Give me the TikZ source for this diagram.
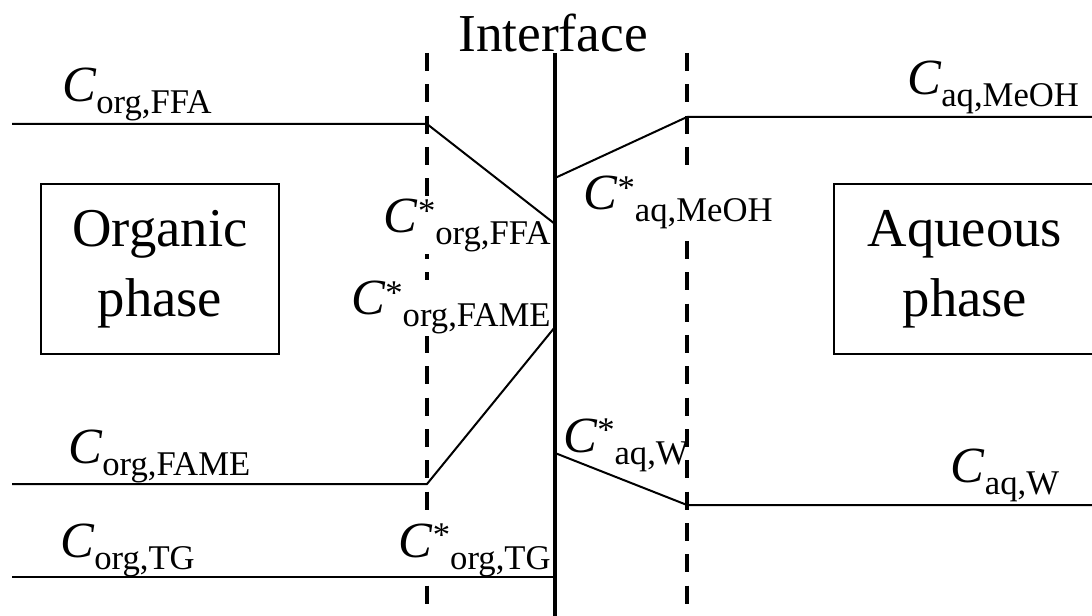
\documentclass[tikz,border=0pt]{standalone}
\usepackage{fontspec}
\setmainfont{Liberation Serif}
\usetikzlibrary{positioning}
\newcommand{\cbulk}[1]{{\fontsize{38}{38}\selectfont\textit{C}}\raisebox{-9pt}{\fontsize{26}{26}\selectfont #1}}
\newcommand{\cintf}[1]{{\fontsize{38}{38}\selectfont\textit{C}}\raisebox{8pt}{\fontsize{26}{26}\selectfont *}\raisebox{-9pt}{\fontsize{26}{26}\selectfont #1}}

\begin{document}
\begin{tikzpicture}[x=0.75pt, y=-0.75pt,
      every node/.style={inner sep=0pt, outer sep=0pt},
      film/.style={line width=3pt, dash pattern=on 13.5pt off 10pt},
      wall/.style={line width=3.2pt},
      prof/.style={line width=1.5pt},
      phasebox/.style={draw, line width=1.3pt, align=center,
                       font=\fontsize{41}{52.5}\selectfont},
      lw/.style={anchor=base west}, le/.style={anchor=base east},
      mask/.style={fill=white, inner sep=1pt}]
    \useasboundingbox (0,0) rectangle (1092,616);
    % film boundaries
    \coordinate (fL1) at (427,53);  \coordinate (fL2) at (427,616);
    \coordinate (fR1) at (687,53);  \coordinate (fR2) at (687,616);
    \coordinate (in1) at (555,53);  \coordinate (in2) at (555,616);
    \draw[film] (fL1) -- (fL2); \draw[film] (fR1) -- (fR2);
    % interface concentrations (over the film lines)
    \node[le, mask] (sffa) at (552,233) {\cintf{org,FFA}};
    \node[le, mask] (sfame) at (552,315) {\cintf{org,FAME}};
    \node[le, mask] (stg) at (552,557) {\cintf{org,TG}};
    \node[lw, mask] (smeoh) at (582,210) {\cintf{aq,MeOH}};
    \node[lw] (sw) at (563,452) {\cintf{aq,W}};
    % interface
    \draw[wall] (in1) -- (in2);
    \node[anchor=base, font=\fontsize{40}{40}\selectfont] (intf) at (553,52) {Interface};
    % phases
    \node[phasebox, minimum width=178.5pt, minimum height=127.5pt] (org) at (160,269) {Organic\\phase};
    \node[phasebox, minimum width=196.5pt, minimum height=127.5pt] (aq) at (965,269) {Aqueous\\phase};
    % concentration profiles
    \coordinate (ffa0) at (12,124);   \coordinate (ffa1) at (427,124);  \coordinate (ffa2) at (555,224);
    \coordinate (meoh0) at (555,178); \coordinate (meoh1) at (687,117); \coordinate (meoh2) at (1092,117);
    \coordinate (fame0) at (12,484);  \coordinate (fame1) at (427,484); \coordinate (fame2) at (555,327);
    \coordinate (w0) at (555,453);    \coordinate (w1) at (687,505);    \coordinate (w2) at (1092,505);
    \coordinate (tg0) at (12,577);    \coordinate (tg1) at (555,577);
    \draw[prof] (ffa0) -- (ffa1) -- (ffa2);
    \draw[prof] (meoh0) -- (meoh1) -- (meoh2);
    \draw[prof] (fame0) -- (fame1) -- (fame2);
    \draw[prof] (w0) -- (w1) -- (w2);
    \draw[prof] (tg0) -- (tg1);
    % bulk concentrations
    \node[lw] (cffa) at (62,102) {\cbulk{org,FFA}};
    \node[lw] (cfame) at (68,463) {\cbulk{org,FAME}};
    \node[lw] (ctg) at (60,557) {\cbulk{org,TG}};
    \node[le] (cmeoh) at (1079,95) {\cbulk{aq,MeOH}};
    \node[le] (cw) at (1059,482) {\cbulk{aq,W}};
  \end{tikzpicture}
\end{document}
